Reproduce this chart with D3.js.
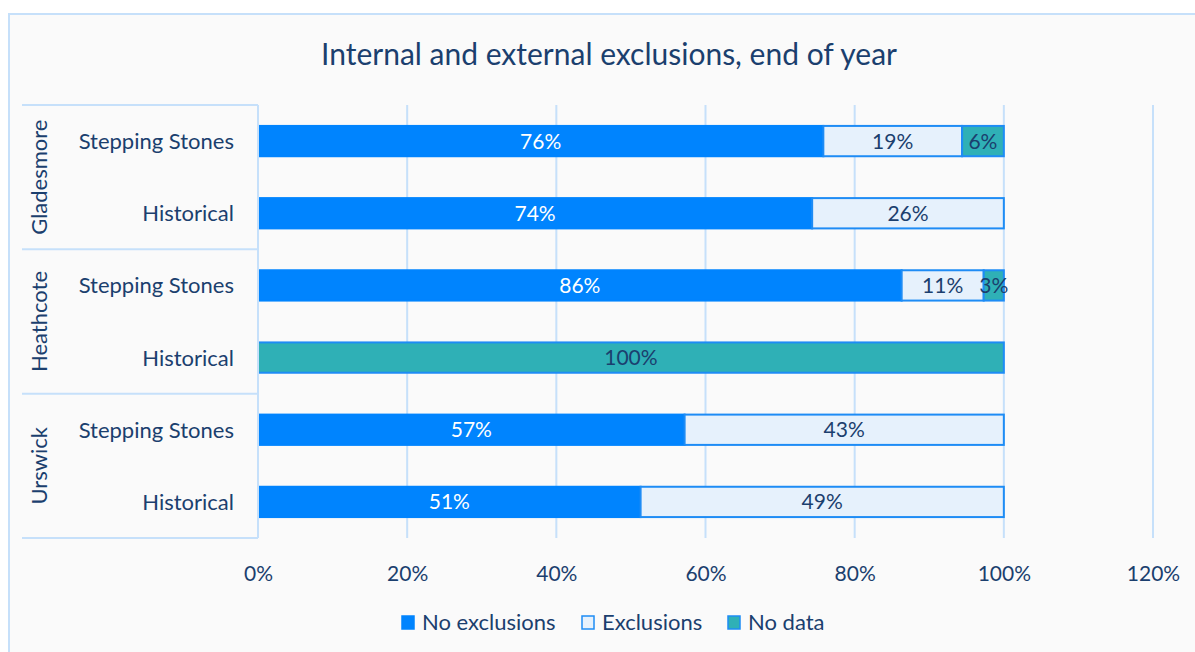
<!DOCTYPE html>
<html><head><meta charset="utf-8">
<script src="https://cdn.jsdelivr.net/npm/d3@7"></script>
<style>
html,body{margin:0;padding:0;background:#fff;}
svg{display:block;font-family:Lato, "Open Sans", sans-serif;}
</style></head>
<body><svg id="chart" width="1195" height="652"></svg>
<script>
const groups = ["Gladesmore","Heathcote","Urswick"];
const subcats = ["Stepping Stones","Historical"];
const series = ["No exclusions","Exclusions","No data"];
const noExclusions = [75.8, 74.3, 86.3, 0, 57.2, 51.3];
const exclusions   = [18.6, 25.7, 11.0, 0, 42.8, 48.7];
const noData       = [5.6, 0, 2.7, 100, 0, 0];
const xTicks = [0,20,40,60,80,100,120];

const colors = {"No exclusions":"#0084fe","Exclusions":"#e6f1fc","No data":"#2fb0b6"};
const strokes = {"No exclusions":"#0084fe","Exclusions":"#1e8cf5","No data":"#1e8cf5"};
const labelColors = {"No exclusions":"#ffffff","Exclusions":"#1b3f6e","No data":"#1b3f6e"};
const textColor = "#1b3f6e";
const lineColor = "#c6e0fa";

const rows = [];
groups.forEach((g,gi)=>subcats.forEach((s,si)=>{
  const i = gi*2+si;
  rows.push({key:g+"|"+s, group:g, sub:s, "No exclusions":noExclusions[i], "Exclusions":exclusions[i], "No data":noData[i]});
}));

const svg = d3.select("#chart");
svg.append("rect").attr("x",9).attr("y",14).attr("width",1200).attr("height",700)
  .attr("fill","#fafafa").attr("stroke",lineColor).attr("stroke-width",2);

svg.append("text").attr("x",609).attr("y",65).attr("text-anchor","middle")
  .attr("font-size",30).attr("fill",textColor).text("Internal and external exclusions, end of year");

const pLeft = 258, pRight = 1153, pTop = 105, pBottom = 538;
const x = d3.scaleLinear().domain([0,120]).range([pLeft,pRight]);
const y = d3.scaleBand().domain(rows.map(r=>r.key)).range([pTop,pBottom]).paddingInner(0.58).paddingOuter(0.29);

// gridlines
svg.append("g").selectAll("line").data(xTicks.filter(t=>t>0)).join("line")
  .attr("x1",d=>x(d)).attr("x2",d=>x(d)).attr("y1",pTop).attr("y2",pBottom)
  .attr("stroke",lineColor).attr("stroke-width",2);

// x axis labels
const xAxis = d3.axisBottom(x).tickValues(xTicks).tickFormat(d=>d+"%").tickSize(0).tickPadding(0);
const gx = svg.append("g").attr("transform",`translate(0,${pBottom})`).call(xAxis);
gx.select(".domain").remove();
gx.selectAll("text").attr("font-size",21).attr("fill",textColor).attr("font-family","Lato, sans-serif").attr("dy",0).attr("y",43);

// stacked bars
const stack = d3.stack().keys(series)(rows);
const layers = svg.append("g").selectAll("g").data(stack).join("g");
layers.selectAll("rect").data(d=>d.map(v=>({key:d.key, v, row:v.data})).filter(d=>d.v[1]-d.v[0]>0)).join("rect")
  .attr("x",d=>x(d.v[0])).attr("width",d=>x(d.v[1])-x(d.v[0]))
  .attr("y",d=>y(d.row.key)).attr("height",y.bandwidth())
  .attr("fill",d=>colors[d.key]).attr("stroke",d=>strokes[d.key]).attr("stroke-width",2);
layers.selectAll("text").data(d=>d.map(v=>({key:d.key, v, row:v.data})).filter(d=>d.v[1]-d.v[0]>0)).join("text")
  .attr("x",d=>(x(d.v[0])+x(d.v[1]))/2).attr("y",d=>y(d.row.key)+y.bandwidth()/2)
  .attr("dy","0.36em").attr("text-anchor","middle").attr("font-size",21)
  .attr("fill",d=>labelColors[d.key]).text(d=>Math.round(d.v[1]-d.v[0])+"%");

// left axis (multi-level)
const ax = svg.append("g");
ax.append("line").attr("x1",pLeft).attr("x2",pLeft).attr("y1",pTop).attr("y2",pBottom).attr("stroke",lineColor).attr("stroke-width",2);
const gBounds = groups.map((g,gi)=>[pTop+gi*(pBottom-pTop)/3, pTop+(gi+1)*(pBottom-pTop)/3]);
ax.selectAll("line.sep").data([pTop].concat(gBounds.map(b=>b[1]))).join("line").attr("class","sep")
  .attr("x1",22).attr("x2",pLeft).attr("y1",d=>d).attr("y2",d=>d).attr("stroke",lineColor).attr("stroke-width",2);
ax.selectAll("text.sub").data(rows).join("text").attr("class","sub")
  .attr("x",234).attr("y",d=>y(d.key)+y.bandwidth()/2).attr("dy","0.36em")
  .attr("text-anchor","end").attr("font-size",22).attr("fill",textColor).text(d=>d.sub);
ax.selectAll("text.grp").data(groups).join("text").attr("class","grp")
  .attr("transform",(d,i)=>`translate(47,${(gBounds[i][0]+gBounds[i][1])/2}) rotate(-90)`)
  .attr("text-anchor","middle").attr("font-size",22).attr("fill",textColor).text(d=>d);

// legend
const leg = svg.append("g");
const legX = [402, 582, 728];
series.forEach((s,i)=>{
  leg.append("rect").attr("x",legX[i]).attr("y",616).attr("width",12).attr("height",13)
    .attr("fill",colors[s]).attr("stroke",strokes[s]).attr("stroke-width",1.5);
  leg.append("text").attr("x",legX[i]+20).attr("y",622).attr("dy","0.36em")
    .attr("font-size",22).attr("fill",textColor).text(s);
});
</script></body></html>
